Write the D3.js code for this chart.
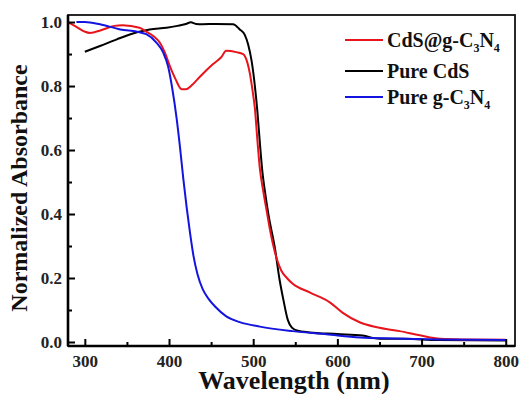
<!DOCTYPE html>
<html>
<head>
<meta charset="utf-8">
<script src="https://cdn.jsdelivr.net/npm/d3@7"></script>
<style>
  body { margin: 0; background: #fff; }
  text { font-family: "Liberation Serif", "Times New Roman", serif; font-weight: bold; }
</style>
</head>
<body>
<svg width="520" height="394"></svg>
<script>
// spectra: [wavelength nm, normalized absorbance]
var composite = [[280,1.0],[290,0.985],[300,0.97],[306,0.966],[320,0.975],[335,0.988],[345,0.99],[365,0.982],[373,0.97],[382,0.955],[389,0.936],[395,0.905],[401,0.862],[408,0.82],[415,0.79],[420,0.79],[428,0.805],[437,0.83],[452,0.868],[462,0.89],[468,0.91],[480,0.906],[488,0.9],[493,0.874],[496,0.84],[499,0.79],[502,0.73],[505,0.63],[508,0.54],[512,0.47],[516,0.41],[520,0.35],[524,0.3],[528,0.26],[533,0.225],[540,0.2],[547,0.182],[567,0.155],[591,0.124],[606,0.092],[627,0.061],[647,0.046],[674,0.034],[698,0.021],[722,0.01],[750,0.008],[800,0.007]];
var pureCdS = [[300,0.907],[318,0.925],[338,0.946],[362,0.968],[377,0.977],[397,0.982],[410,0.988],[420,0.994],[426,0.999],[432,0.994],[440,0.993],[455,0.994],[476,0.993],[484,0.977],[490,0.96],[494,0.93],[498,0.88],[502,0.8],[505,0.72],[508,0.62],[511,0.53],[514,0.47],[518,0.4],[526,0.29],[531,0.2],[536,0.13],[541,0.07],[546,0.045],[553,0.035],[567,0.03],[600,0.025],[630,0.02],[650,0.01],[680,0.01],[720,0.006],[800,0.005]];
var pureCN = [[290,1.0],[300,1.0],[318,0.993],[342,0.977],[365,0.968],[373,0.962],[385,0.936],[393,0.905],[399,0.86],[404,0.79],[409,0.7],[413,0.61],[417,0.51],[421,0.42],[425,0.34],[429,0.27],[434,0.21],[440,0.165],[447,0.135],[455,0.11],[468,0.08],[484,0.062],[508,0.048],[547,0.034],[587,0.024],[627,0.014],[666,0.011],[720,0.008],[800,0.006]];

var xTicks = [300, 400, 500, 600, 700, 800];
var xMinor = [350, 450, 550, 650, 750];
var yTicks = [0, 0.2, 0.4, 0.6, 0.8, 1.0];
var yMinor = [0.1, 0.3, 0.5, 0.7, 0.9];

var seriesNames = ["CdS@g-C3N4", "Pure CdS", "Pure g-C3N4"];
var seriesColors = ["#e8141c", "#000000", "#1414e0"];

var svg = d3.select("svg");
var mLeft = 68, mRight = 515, mTop = 15, mBottom = 346;

var x = d3.scaleLinear().domain([280, 811]).range([mLeft, mRight]);
var y = d3.scaleLinear().domain([-0.0125, 1.022]).range([mBottom, mTop]);

var line = d3.line()
  .x(function(d){ return x(d[0]); })
  .y(function(d){ return y(d[1]); })
  .curve(d3.curveMonotoneX);

// curves
var data = [composite, pureCdS, pureCN];
[1, 0, 2].forEach(function(i){
  svg.append("path")
    .attr("d", line(data[i]))
    .attr("fill", "none")
    .attr("stroke", seriesColors[i])
    .attr("stroke-width", 2);
});

// frame
svg.append("rect")
  .attr("x", mLeft).attr("y", mTop)
  .attr("width", mRight - mLeft).attr("height", mBottom - mTop)
  .attr("fill", "none").attr("stroke", "#111").attr("stroke-width", 1.8);
svg.append("line").attr("x1", mLeft).attr("x2", mLeft).attr("y1", mTop).attr("y2", mBottom)
  .attr("stroke", "#000").attr("stroke-width", 2.6);
svg.append("line").attr("x1", mLeft).attr("x2", mRight).attr("y1", mBottom).attr("y2", mBottom)
  .attr("stroke", "#000").attr("stroke-width", 2.6);

// axes with inward ticks
var xAxis = svg.append("g").attr("transform", "translate(0," + mBottom + ")")
  .call(d3.axisBottom(x).tickValues(xTicks).tickSize(-7).tickPadding(9));
var xAxisMinor = svg.append("g").attr("transform", "translate(0," + mBottom + ")")
  .call(d3.axisBottom(x).tickValues(xMinor).tickSize(-4).tickFormat(""));
var yAxis = svg.append("g").attr("transform", "translate(" + mLeft + ",0)")
  .call(d3.axisLeft(y).tickValues(yTicks).tickSize(-7).tickPadding(6).tickFormat(d3.format(".1f")));
var yAxisMinor = svg.append("g").attr("transform", "translate(" + mLeft + ",0)")
  .call(d3.axisLeft(y).tickValues(yMinor).tickSize(-4).tickFormat(""));

[xAxis, xAxisMinor, yAxis, yAxisMinor].forEach(function(g){
  g.select(".domain").remove();
  g.selectAll(".tick line").attr("stroke", "#000").attr("stroke-width", 2);
  g.selectAll(".tick text")
    .attr("fill", "#222")
    .style("font-family", "'Liberation Serif', serif")
    .style("font-weight", "bold")
    .style("font-size", "17px");
});

// axis titles
svg.append("text")
  .attr("x", 294).attr("y", 389)
  .attr("text-anchor", "middle")
  .style("font-size", "26px")
  .attr("fill", "#111")
  .text("Wavelength (nm)");
svg.append("text")
  .attr("transform", "translate(27,188) rotate(-90)")
  .attr("text-anchor", "middle")
  .style("font-size", "24px")
  .attr("fill", "#111")
  .text("Normalized Absorbance");

// legend
var legendY = [40, 71, 97];
var legendParts = [
  [["CdS@g-C", 0], ["3", 1], ["N", 0], ["4", 1]],
  [["Pure CdS", 0]],
  [["Pure g-C", 0], ["3", 1], ["N", 0], ["4", 1]]
];
legendY.forEach(function(ly, i){
  svg.append("line")
    .attr("x1", 345).attr("x2", 383)
    .attr("y1", ly).attr("y2", ly)
    .attr("stroke", seriesColors[i]).attr("stroke-width", 2);
  var t = svg.append("text")
    .attr("x", 387).attr("y", ly + 7)
    .style("font-size", "20px")
    .attr("fill", "#111");
  legendParts[i].forEach(function(p){
    var s = t.append("tspan").text(p[0]);
    if (p[1]) s.attr("dy", 5).style("font-size", "12px");
    else if (t.selectAll("tspan").size() > 1) s.attr("dy", -5);
  });
});
</script>
</body>
</html>
